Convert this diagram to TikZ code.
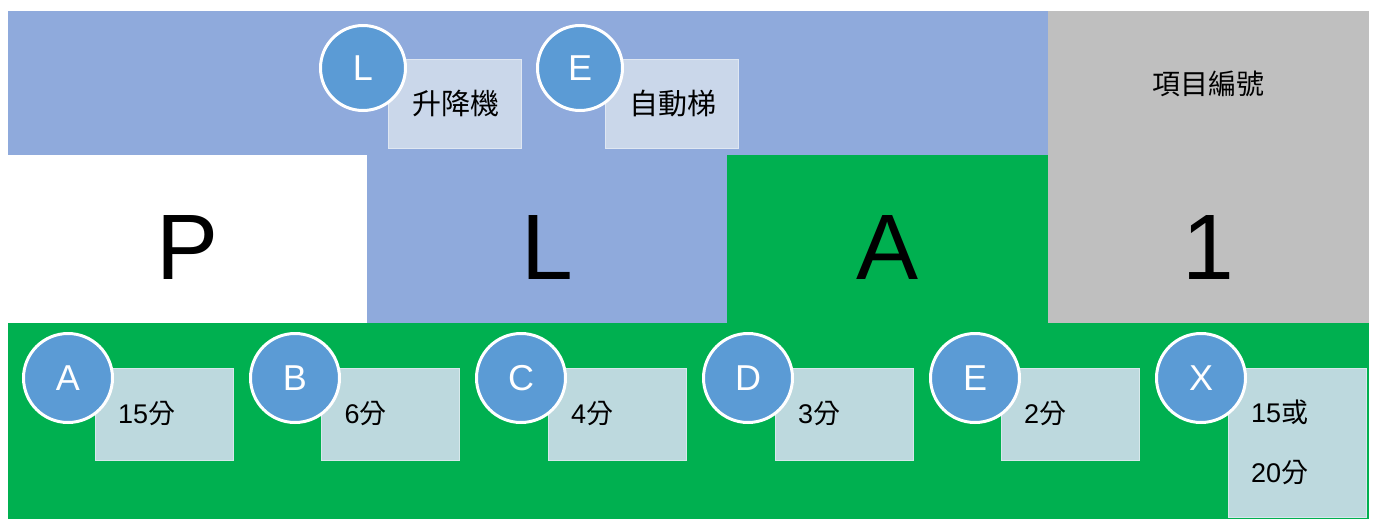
\documentclass[tikz,border=0pt]{standalone}
\usepackage{fontspec}
\setmainfont{Liberation Sans}
\newfontfamily\cjk{Noto Sans CJK TC}
\definecolor{bandblue}{HTML}{8FAADC}
\definecolor{bandgreen}{HTML}{00B050}
\definecolor{bandgray}{HTML}{BFBFBF}
\definecolor{circblue}{HTML}{5B9BD5}
\definecolor{topbox}{HTML}{CAD7EA}
\definecolor{botbox}{HTML}{BDD9DE}
\begin{document}
\begin{tikzpicture}[x=1pt,y=-1pt,
  badge/.style={circle,fill=circblue,draw=white,line width=3pt,inner sep=0pt,
    text=white,font=\fontsize{36}{40}\selectfont},
  topbadge/.style={badge,minimum size=85pt},
  botbadge/.style={badge,minimum size=89pt},
  tbox/.style={rectangle,fill=topbox,draw=white!40!topbox,line width=1pt,
    minimum width=133pt,minimum height=89pt,inner xsep=24pt,text width=85pt,align=left,
    font=\fontsize{29}{32}\selectfont\cjk},
  bbox/.style={rectangle,fill=botbox,draw=white!40!botbox,line width=1pt,
    minimum width=138pt,minimum height=92pt,inner xsep=23pt,text width=92pt,align=left,
    font=\fontsize{27}{30}\selectfont},
  big/.style={font=\fontsize{93}{100}\selectfont,inner sep=0pt}
]
\useasboundingbox (0,0) rectangle (1373,520);
% panels
\fill[bandblue] (8,11) rectangle (1048,155);
\fill[bandblue] (367,155) rectangle (727,323);
\fill[bandgreen] (727,155) rectangle (1048,323);
\fill[bandgray] (1048,11) rectangle (1369,323);
\fill[bandgreen] (8,323) rectangle (1369,519);
% big letters
\node[big] (P) at (188,247.5) {P};
\node[big] (L) at (547,247.5) {L};
\node[big] (A) at (887.5,247.5) {A};
\node[big] (one) at (1208,247.5) {1};
\node[font=\fontsize{28}{30}\selectfont\cjk] (title) at (1208,84) {項目編號};
% top boxes
\node[tbox] (lift) at (454.5,103.5) {升降機};
\node[tbox] (esc) at (672,103.5) {自動梯};
\node[topbadge] (cL) at (363,68) {L};
\node[topbadge] (cE) at (580,68) {E};
% bottom boxes
\node[bbox] (bA) at (164,414) {15{\cjk 分}};
\node[bbox] (bB) at (390.5,414) {6{\cjk 分}};
\node[bbox] (bC) at (617,414) {4{\cjk 分}};
\node[bbox] (bD) at (844,414) {3{\cjk 分}};
\node[bbox] (bE) at (1070,414) {2{\cjk 分}};
\node[bbox,minimum height=149pt,font=\fontsize{27}{60}\selectfont] (bX) at (1297,442.5) {15{\cjk 或}\\20{\cjk 分}};
\node[botbadge] (cA) at (68,378) {A};
\node[botbadge] (cB) at (295,378) {B};
\node[botbadge] (cC) at (521,378) {C};
\node[botbadge] (cD) at (748,378) {D};
\node[botbadge] (cE2) at (975,378) {E};
\node[botbadge] (cX) at (1201,378) {X};
\end{tikzpicture}
\end{document}
